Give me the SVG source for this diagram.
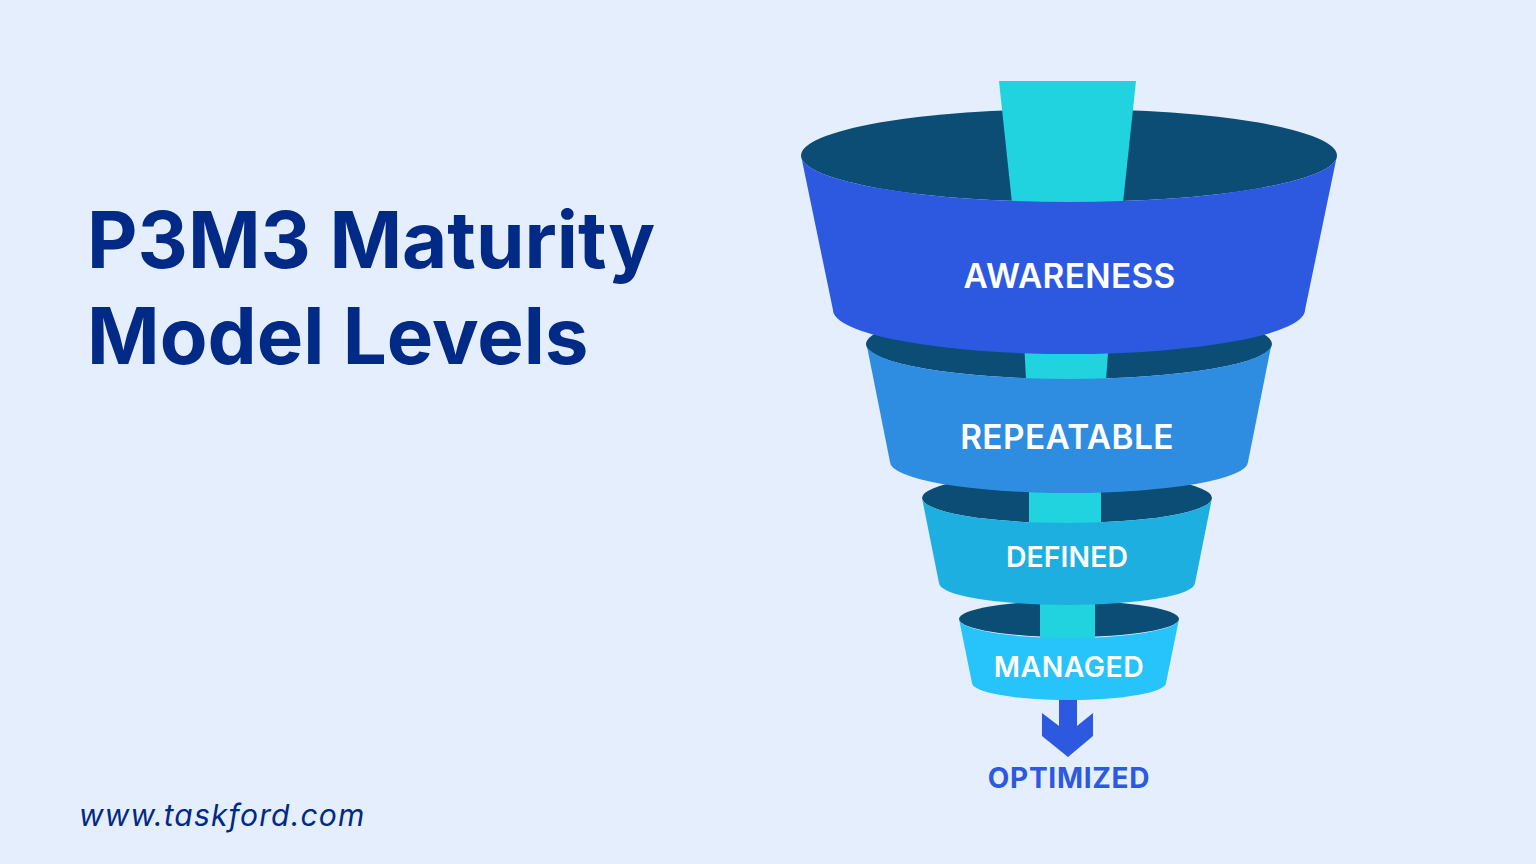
<svg xmlns="http://www.w3.org/2000/svg" width="1536" height="864" viewBox="0 0 1536 864">
<style>
.t{font-family:Inter,"Liberation Sans",sans-serif}
.h{font-size:78px;font-weight:700;fill:#002a86}
.l{font-weight:600;fill:#fff;text-anchor:middle}
.d{fill:#0b4d75}
.c{fill:#20d3de}
</style>
<rect width="1536" height="864" fill="#e5eefd"/>
<text class="t h" x="87" y="268">P3M3 Maturity</text>
<text class="t h" x="87" y="364">Model Levels</text>
<text class="t" x="79" y="826" font-size="30" font-style="italic" fill="#002a86" letter-spacing="1.15">www.taskford.com</text>
<g id="managed">
<ellipse class="d" cx="1069" cy="619" rx="110" ry="18"/>
<polygon class="c" points="1040,604 1095,604 1095,640 1040,640"/>
<path fill="#26c4fb" d="M959 619A110 19 0 0 0 1179 619L1166 683A97 17 0 0 1 972 683Z"/>
<text class="t l" x="1069" y="677" font-size="28.400" letter-spacing="0.5">MANAGED</text>
</g>
<g id="defined">
<ellipse class="d" cx="1067" cy="498" rx="145" ry="25"/>
<polygon class="c" points="1029,485 1101,485 1101,525 1029,525"/>
<path fill="#1cafe0" d="M922 498A145 25 0 0 0 1212 498L1195 583A128 22 0 0 1 939 583Z"/>
<text class="t l" x="1067" y="567" font-size="28.400" letter-spacing="0.1">DEFINED</text>
</g>
<g id="repeatable">
<ellipse class="d" cx="1069" cy="344" rx="203" ry="35"/>
<polygon class="c" points="1024,340 1109,340 1106,380 1026,380"/>
<path fill="#2e8de0" d="M866.500 344A202.500 35 0 0 0 1271.500 344L1248 462A179 31 0 0 1 890 462Z"/>
<text class="t l" x="1067" y="449" font-size="33.400" letter-spacing="0.4">REPEATABLE</text>
</g>
<g id="awareness">
<ellipse class="d" cx="1069" cy="155.500" rx="268" ry="46.500"/>
<polygon class="c" points="999,81 1136,81 1123,203 1012,203"/>
<path fill="#2c59e0" d="M801 155.500A268 46.500 0 0 0 1337 155.500L1305 310A236 44 0 0 1 833 310Z"/>
<text class="t l" x="1069.500" y="288" font-size="33.400" letter-spacing="0.3">AWARENESS</text>
</g>
<g id="optimized">
<polygon fill="#2c59e0" points="1059,700 1077,700 1077,726 1093,713 1093,736 1068,757 1042,736 1042,713 1059,726"/>
<text class="t" x="1069" y="788" font-size="28" font-weight="700" fill="#2c59e0" text-anchor="middle" letter-spacing="0.7">OPTIMIZED</text>
</g>
</svg>
